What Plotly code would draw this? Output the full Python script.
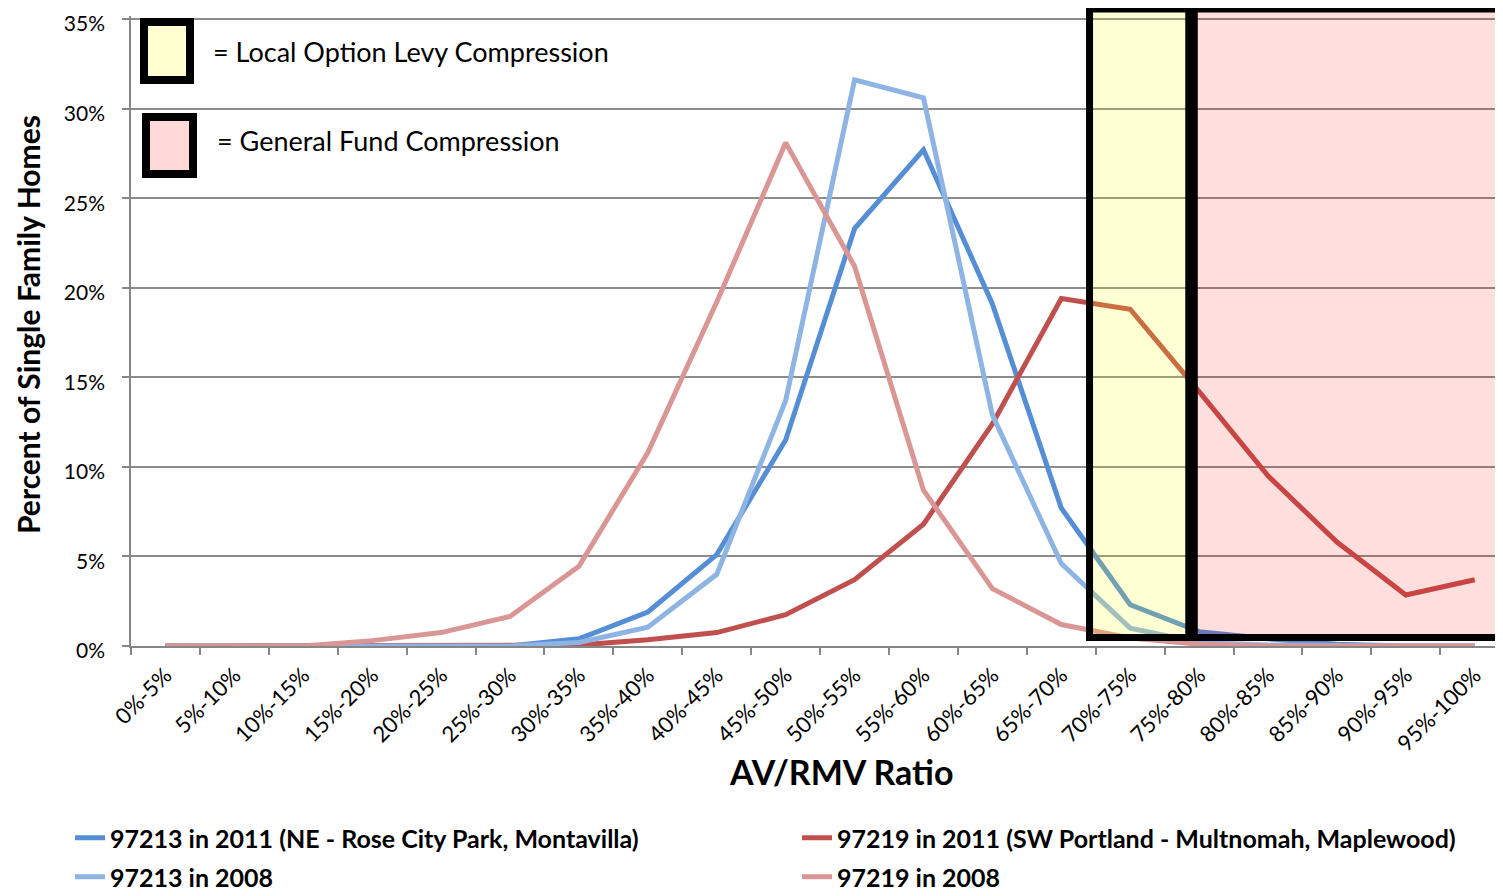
import plotly.graph_objects as go

categories = ["0%-5%", "5%-10%", "10%-15%", "15%-20%", "20%-25%", "25%-30%", "30%-35%",
              "35%-40%", "40%-45%", "45%-50%", "50%-55%", "55%-60%", "60%-65%", "65%-70%",
              "70%-75%", "75%-80%", "80%-85%", "85%-90%", "90%-95%", "95%-100%"]

zip97213_2011 = [0, 0, 0, 0, 0, 0, 0.4, 1.9, 5.1, 11.5, 23.3, 27.7, 19.1, 7.7, 2.3, 0.8, 0.4, 0.1, 0, 0]
zip97219_2011 = [0, 0, 0, 0, 0, 0, 0.05, 0.35, 0.75, 1.75, 3.7, 6.8, 12.4, 19.4, 18.8, 14.2, 9.5, 5.8, 2.85, 3.7]
zip97213_2008 = [0, 0, 0, 0, 0, 0, 0.2, 1.05, 4.0, 13.7, 31.6, 30.6, 12.9, 4.6, 1.0, 0.2, 0.05, 0, 0, 0]
zip97219_2008 = [0, 0, 0, 0.3, 0.75, 1.65, 4.45, 10.8, 19.2, 28.1, 21.2, 8.7, 3.2, 1.2, 0.45, 0.1, 0, 0, 0, 0]

series_names = ["97213 in 2011 (NE - Rose City Park, Montavilla)",
                "97219 in 2011 (SW Portland - Multnomah, Maplewood)",
                "97213 in 2008",
                "97219 in 2008"]
series_values = [zip97213_2011, zip97219_2011, zip97213_2008, zip97219_2008]
series_colors = ["#558ED5", "#C0504D", "#8EB4E3", "#D99694"]
series_legends = ["legend", "legend2", "legend3", "legend4"]

y_ticks = [0, 5, 10, 15, 20, 25, 30, 35]
y_ticktext = [f"{v}%" for v in y_ticks]

BASE_FONT = "Lato, 'Open Sans', sans-serif"

# the page body has an 8px margin, so the figure is drawn 8px in from the top-left
OFF = 8
W, H = 1503 - OFF, 896 - OFF
ML, MR, MT, MB = 131 - OFF, 0, 8, 896 - 638 - OFF
x_range = [-0.5, 19.41]
y_range = [0, 35.17]
pw, ph = W - ML - MR, H - MT - MB


def px(x):
    # screen pixel x -> paper fraction
    return (x - OFF - ML) / pw


def py(y):
    # screen pixel y -> paper fraction
    return (H - MB - (y - OFF)) / ph


fig = go.Figure()
for name, vals, col, lg in zip(series_names, series_values, series_colors, series_legends):
    fig.add_trace(go.Scatter(x=categories, y=vals, name=name, mode="lines",
                             line=dict(color=col, width=5), legend=lg, showlegend=True))

# compression zones (semi-transparent overlays above the lines)
fig.add_shape(type="rect", xref="x", yref="paper", x0=13.41, x1=14.85, y0=py(637.5), y1=py(9),
              fillcolor="rgba(255,255,0,0.17)", line=dict(color="black", width=7), layer="above")
fig.add_shape(type="rect", xref="x", yref="paper", x0=14.93, x1=19.37, y0=py(637.5), y1=py(9),
              fillcolor="rgba(255,0,0,0.13)", line=dict(color="black", width=7), layer="above")

# key boxes in the top-left corner
fig.add_shape(type="rect", xref="paper", yref="paper", x0=px(144), x1=px(190), y0=py(80), y1=py(22),
              fillcolor="#FFFFD0", line=dict(color="black", width=8), layer="above")
fig.add_shape(type="rect", xref="paper", yref="paper", x0=px(146), x1=px(193), y0=py(174), y1=py(117),
              fillcolor="#FFD8D8", line=dict(color="black", width=8), layer="above")
fig.add_annotation(xref="paper", yref="paper", x=px(211), y=py(51), xanchor="left", yanchor="middle",
                   text="= Local Option Levy Compression", showarrow=False,
                   font=dict(family=BASE_FONT, size=27, color="black"))
fig.add_annotation(xref="paper", yref="paper", x=px(215), y=py(140), xanchor="left", yanchor="middle",
                   text="= General Fund Compression", showarrow=False,
                   font=dict(family=BASE_FONT, size=27, color="black"))

# axis titles
fig.add_annotation(xref="paper", yref="paper", x=px(841), y=py(771), xanchor="center", yanchor="middle",
                   text="<b>AV/RMV Ratio</b>", showarrow=False,
                   font=dict(family=BASE_FONT, size=34, color="black"))
fig.add_annotation(xref="paper", yref="paper", x=px(28), y=py(325), xanchor="center", yanchor="middle",
                   text="<b>Percent of Single Family Homes</b>", showarrow=False, textangle=-90,
                   font=dict(family=BASE_FONT, size=30, color="black"))

legend_font = dict(family=BASE_FONT, size=25, color="black", weight="bold")
legend_pos = {"legend": (110, 838), "legend2": (837, 838), "legend3": (110, 877), "legend4": (837, 877)}
legend_layout = {}
for key, (tx, ty) in legend_pos.items():
    legend_layout[key] = dict(orientation="v", xref="container", yref="container",
                              x=(tx - OFF - 40) / W, y=1 - (ty - OFF) / H,
                              xanchor="left", yanchor="middle", font=legend_font,
                              bgcolor="rgba(0,0,0,0)", borderwidth=0, visible=True)

fig.update_layout(
    width=W, height=H, showlegend=True,
    margin=dict(l=ML, r=MR, t=MT, b=MB, autoexpand=False),
    paper_bgcolor="white", plot_bgcolor="white",
    font=dict(family=BASE_FONT, color="black"),
    xaxis=dict(type="category", range=x_range, tickson="boundaries", ticks="outside",
               ticklen=7, tickcolor="#868686", tickwidth=1.5, showline=True, linecolor="#868686",
               linewidth=1.5, showgrid=False, zeroline=False, tickangle=-45,
               tickfont=dict(family=BASE_FONT, size=22, color="black"), ticklabelstandoff=6,
               automargin=False),
    yaxis=dict(range=y_range, tickvals=y_ticks, ticktext=y_ticktext, ticks="outside", ticklen=7,
               tickcolor="#868686", tickwidth=1.5, showline=True, linecolor="#868686", linewidth=1.5,
               showgrid=True, gridcolor="#8C8C8C", gridwidth=1.5, zeroline=False,
               tickfont=dict(family=BASE_FONT, size=21, color="black"), ticklabelstandoff=13,
               ticklabelshift=5, ticklabeloverflow="allow", automargin=False),
    **legend_layout,
)

fig.write_html("out.html")
